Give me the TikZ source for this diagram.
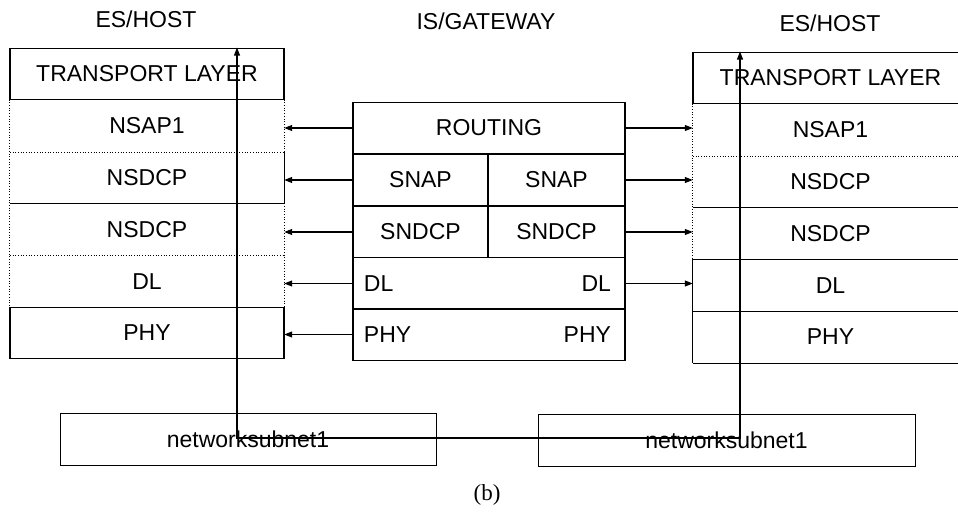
\documentclass[tikz,border=0pt]{standalone}
\usepackage{fontspec}
\setmainfont{Liberation Sans}
\newfontfamily\capfont{Liberation Serif}
\usetikzlibrary{arrows.meta}

\tikzset{
  layer/.style={inner sep=0pt,minimum height=51.8pt},
  hostcell/.style={layer,minimum width=274pt},
  farcell/.style={layer,minimum width=275pt},
  solidline/.style={line width=1.1pt},
  dotline/.style={line width=0.7pt,dotted},
  netbox/.style={draw,line width=0.7pt,inner sep=0pt,minimum width=376pt,minimum height=52pt}
}

\begin{document}
\begin{tikzpicture}[x=1pt,y=-1pt,>={Triangle[length=8pt,width=6pt]},
    font=\fontsize{23}{27}\selectfont]
  \useasboundingbox (0,0) rectangle (958,513);
  % headings
  \node (lhost) at (146,19) {ES/HOST};
  \node (gate) at (486,21) {IS/GATEWAY};
  \node (rhost) at (830,23) {ES/HOST};
  % left host stack
  \node[hostcell,draw,solidline] (ltr) at (147,74) {TRANSPORT LAYER};
  \node[hostcell] (lnsap) at (147,125.8) {NSAP1};
  \node[hostcell] (lnsdcp) at (147,177.6) {NSDCP};
  \node[hostcell] (lnsdcpb) at (147,229.4) {NSDCP};
  \node[hostcell] (ldl) at (147,281.2) {DL};
  \node[hostcell,draw,solidline] (lphy) at (147,333) {PHY};
  \draw[dotline] (lnsap.north west) -- (ldl.south west);
  \draw[dotline] (lnsap.north east) -- (lnsap.south east);
  \draw[solidline] (lnsdcp.north east) -- (lnsdcp.south east);
  \draw[dotline] (lnsdcpb.north east) -- (ldl.south east);
  \draw[dotline] (lnsap.south west) -- (lnsap.south east);
  \draw[solidline] (lnsdcp.south west) -- (lnsdcp.south east);
  \draw[dotline] (lnsdcpb.south west) -- (lnsdcpb.south east);
  % gateway stack
  \node[layer,draw,solidline,minimum width=272pt] (grout) at (489,128) {ROUTING};
  \node[layer,draw,solidline,minimum width=135pt] (gsnapl) at (420.5,180) {SNAP};
  \node[layer,draw,solidline,minimum width=137pt] (gsnapr) at (556.5,180) {SNAP};
  \node[layer,draw,solidline,minimum width=135pt] (gsndcpl) at (420.5,232) {SNDCP};
  \node[layer,draw,solidline,minimum width=137pt] (gsndcpr) at (556.5,232) {SNDCP};
  \node[layer,draw,solidline,minimum width=272pt] (gdl) at (489,283.5) {};
  \node[layer,draw,solidline,minimum width=272pt] (gphy) at (489,334.5) {};
  \node[anchor=west] (gdll) at ([xshift=8pt]gdl.west) {DL};
  \node[anchor=east] (gdlr) at ([xshift=-11pt]gdl.east) {DL};
  \node[anchor=west] (gphyl) at ([xshift=8pt]gphy.west) {PHY};
  \node[anchor=east] (gphyr) at ([xshift=-11pt]gphy.east) {PHY};
  % right host stack
  \node[farcell,draw,solidline] (rtr) at (830.5,78) {TRANSPORT LAYER};
  \node[farcell] (rnsap) at (830.5,129.8) {NSAP1};
  \node[farcell] (rnsdcp) at (830.5,181.6) {NSDCP};
  \node[farcell] (rnsdcpb) at (830.5,233.4) {NSDCP};
  \node[farcell] (rdl) at (830.5,285.2) {DL};
  \node[farcell] (rphy) at (830.5,337) {PHY};
  \draw[dotline] (rnsap.north west) -- (rnsdcpb.south west);
  \draw[solidline] (rdl.north west) -- (rphy.south west);
  \draw[dotline] (rnsap.south west) -- (rnsap.south east);
  \draw[solidline] (rnsdcp.south west) -- (rnsdcp.south east);
  \draw[solidline] (rnsdcpb.south west) -- (rnsdcpb.south east);
  \draw[solidline] (rdl.south west) -- (rdl.south east);
  \draw[solidline] (rphy.south west) -- (rphy.south east);
  % gateway to hosts
  \draw[->,solidline] (grout.west) -- (grout.west -| lnsap.east);
  \draw[->,solidline] (gsnapl.west) -- (gsnapl.west -| lnsap.east);
  \draw[->,solidline] (gsndcpl.west) -- (gsndcpl.west -| lnsap.east);
  \draw[->,solidline] (gdl.west) -- (gdl.west -| lnsap.east);
  \draw[->,solidline] (gphy.west) -- (gphy.west -| lnsap.east);
  \draw[->,solidline] (grout.east) -- (grout.east -| rnsap.west);
  \draw[->,solidline] (gsnapr.east) -- (gsnapr.east -| rnsap.west);
  \draw[->,solidline] (gsndcpr.east) -- (gsndcpr.east -| rnsap.west);
  \draw[->,solidline] (gdl.east) -- (gdl.east -| rnsap.west);
  % subnets
  \node[netbox] (lnet) at (248,439) {networksubnet1};
  \node[netbox,minimum width=377pt] (rnet) at (726.5,440) {networksubnet1};
  \coordinate (ltap) at (237,438);
  \coordinate (rtap) at (740,438);
  \draw[<->,solidline] (ltap |- ltr.north) -- (ltap) -- (rtap) -- (rtap |- rtr.north);
  \node[font=\capfont\fontsize{23}{26}\selectfont] (cap) at (487,495) {(b)};
\end{tikzpicture}
\end{document}
